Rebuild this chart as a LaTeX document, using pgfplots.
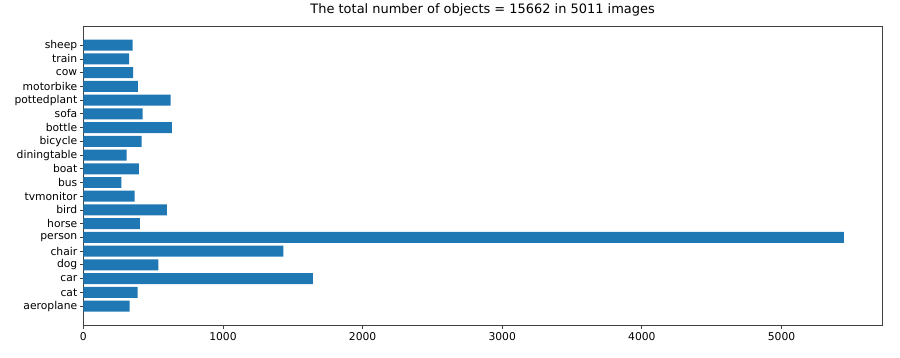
\documentclass[border=0pt]{standalone}
\usepackage{pgfplots}
\pgfplotsset{compat=1.18}
\usepackage{fontspec}
\setmainfont{DejaVu Sans}
\definecolor{tabblue}{HTML}{1F77B4}
\begin{document}
\begin{tikzpicture}[x=1bp,y=1bp]
\begin{axis}[
  at={(0,0)}, anchor=south west,
  scale only axis,
  width=798.7bp, height=299bp,
  xbar, bar width=0.8,
  xmin=0, xmax=5719.35,
  ymin=-1.39, ymax=20.39,
  ytick={0,...,19},
  yticklabels={aeroplane,cat,car,dog,chair,person,horse,bird,tvmonitor,bus,boat,diningtable,bicycle,bottle,sofa,pottedplant,motorbike,cow,train,sheep},
  xtick={0,1000,2000,3000,4000,5000},
  scaled x ticks=false,
  /pgf/number format/assume math mode=true,
  /pgf/number format/1000 sep={},
  tick label style={font=\fontsize{10.8}{12}\selectfont, black},
  yticklabel style={xshift=1bp},
  tick align=outside,
  tick pos=left,
  major tick length=3.5bp,
  axis line style={black!75, line width=0.8bp},
  every tick/.style={black!75, line width=0.8bp},
  title={The total number of objects = 15662 in 5011 images},
  title style={font=\fontsize{13}{15}\selectfont, at={(0.5,1)}, anchor=base, yshift=7bp},
]
\addplot[fill=tabblue, draw=none] coordinates {
(331,0) (389,1) (1644,2) (538,3) (1432,4) (5447,5) (406,6) (599,7) (367,8) (272,9)
(398,10) (310,11) (418,12) (634,13) (425,14) (625,15) (390,16) (356,17) (328,18) (353,19)
};
\end{axis}
\path (-83.3bp,-32bp) rectangle (816.7bp,324bp);
\end{tikzpicture}
\end{document}
